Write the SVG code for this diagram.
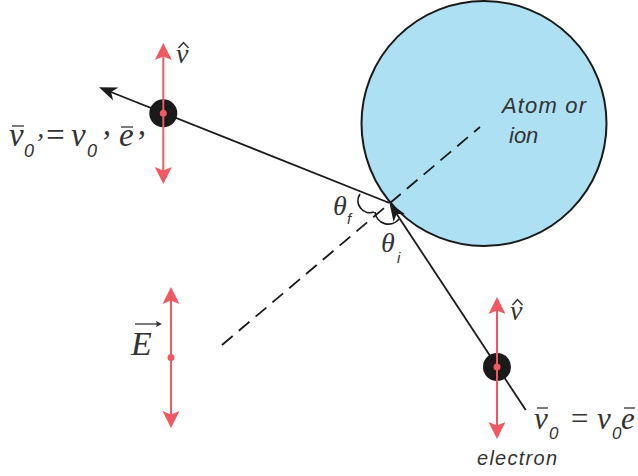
<svg xmlns="http://www.w3.org/2000/svg" width="638" height="476" viewBox="0 0 638 476">
<style>
.blk{stroke:#1a1a1a;stroke-width:1.8;fill:none}
.red{stroke:#ee5a60;stroke-width:2;fill:none}
.mi{font-family:"Liberation Serif",serif;font-style:italic;fill:#333}
.ss{font-family:"Liberation Sans",sans-serif;font-style:italic;fill:#333}
.sub{font-family:"Liberation Sans",sans-serif;font-style:italic}
.bar{stroke:#333;stroke-width:1.3;fill:none}
.hat{stroke:#333;stroke-width:1.5;fill:none;stroke-linejoin:miter}
</style>
<defs>
<marker id="rh" viewBox="-30 -12 32 24" markerWidth="32" markerHeight="24" refX="-10" refY="0" orient="auto-start-reverse" markerUnits="userSpaceOnUse">
<path d="M0,0 L-17,-8.5 L-13.5,0 L-17,8.5 Z" fill="#ee5a60"/>
</marker>
<marker id="bh" viewBox="-30 -12 32 24" markerWidth="32" markerHeight="24" refX="-10" refY="0" orient="auto" markerUnits="userSpaceOnUse">
<path d="M0,0 L-18,-7 L-13,0 L-18,7 Z" fill="#1a1a1a"/>
</marker>
<marker id="eh" viewBox="-8 -5 10 10" markerWidth="10" markerHeight="10" refX="-3" refY="0" orient="auto" markerUnits="userSpaceOnUse">
<path d="M0,0 L-6,-3 L-5,0 L-6,3 Z" fill="#333"/>
</marker>
</defs>

<g id="atom">
<circle cx="484" cy="123.5" r="122.5" fill="#aee0f3" stroke="#1a1a1a" stroke-width="2"/>
<text class="ss" x="502" y="113" font-size="22" textLength="84">Atom or</text>
<text class="ss" x="509" y="143" font-size="22">ion</text>
</g>

<g id="connectors">
<line x1="222" y1="345" x2="480" y2="127" stroke="#1a1a1a" stroke-width="1.8" stroke-dasharray="14 8"/>
<line class="blk" x1="389.5" y1="203" x2="108.3" y2="91" marker-end="url(#bh)"/>
<line class="blk" x1="525.7" y1="410" x2="395" y2="211.4" marker-end="url(#bh)"/>
<path class="blk" d="M360,194 A12 12 0 0 0 374,212"/>
<path class="blk" d="M375,212 A13.5 13.5 0 0 0 399,219"/>
</g>

<g id="angles">
<text class="mi" font-size="28"><tspan x="333" y="215">θ</tspan><tspan class="sub" x="347" y="224" font-size="15">f</tspan></text>
<text class="mi" font-size="28"><tspan x="381" y="252">θ</tspan><tspan class="sub" x="397" y="263" font-size="15">i</tspan></text>
</g>

<g id="electron-out">
<circle cx="163.3" cy="113.3" r="14" fill="#1a1a1a"/>
<line class="red" x1="163.3" y1="53" x2="163.3" y2="174" marker-start="url(#rh)" marker-end="url(#rh)"/>
<circle cx="163.3" cy="113.3" r="3.5" fill="#ee5a60"/>
<text class="mi" x="176" y="63" font-size="28">v</text>
<polyline class="hat" points="178.5,48 183.5,42.5 188.5,48"/>
<line class="bar" x1="12" y1="126" x2="24" y2="126"/>
<line class="bar" x1="121" y1="127" x2="133" y2="127"/>
<text class="mi" font-size="33"><tspan x="9" y="146">v</tspan><tspan class="sub" x="24" y="157" font-size="18">0</tspan><tspan x="34" y="152" font-size="28">’</tspan><tspan x="44" y="146">=</tspan><tspan x="71" y="146">v</tspan><tspan class="sub" x="87" y="157" font-size="18">0</tspan><tspan x="99" y="153">’</tspan><tspan x="119" y="146">e</tspan><tspan x="134" y="153">’</tspan></text>
</g>

<g id="electron-in">
<circle cx="497" cy="367" r="14" fill="#1a1a1a"/>
<line class="red" x1="497" y1="307" x2="497" y2="429" marker-start="url(#rh)" marker-end="url(#rh)"/>
<circle cx="497" cy="367" r="3.5" fill="#ee5a60"/>
<text class="mi" x="510" y="320" font-size="28">v</text>
<polyline class="hat" points="512.5,305 517.5,299.5 522.5,305"/>
<line class="bar" x1="537" y1="408" x2="548" y2="408"/>
<line class="bar" x1="624" y1="408" x2="635" y2="408"/>
<text class="mi" font-size="31"><tspan x="534" y="429">v</tspan><tspan class="sub" x="549" y="439" font-size="17">0</tspan><tspan x="569" y="429">=</tspan><tspan x="597" y="429">v</tspan><tspan class="sub" x="612" y="439" font-size="17">0</tspan><tspan x="621" y="429">e</tspan></text>
<text class="ss" x="477" y="465" font-size="20" textLength="80">electron</text>
</g>

<g id="field">
<line class="red" x1="171" y1="297" x2="171" y2="418" marker-start="url(#rh)" marker-end="url(#rh)"/>
<circle cx="171" cy="357.5" r="3.5" fill="#ee5a60"/>
<line x1="135" y1="324" x2="159" y2="324" stroke="#333" stroke-width="1.3" marker-end="url(#eh)"/>
<text class="mi" x="131" y="355" font-size="34">E</text>
</g>
</svg>
